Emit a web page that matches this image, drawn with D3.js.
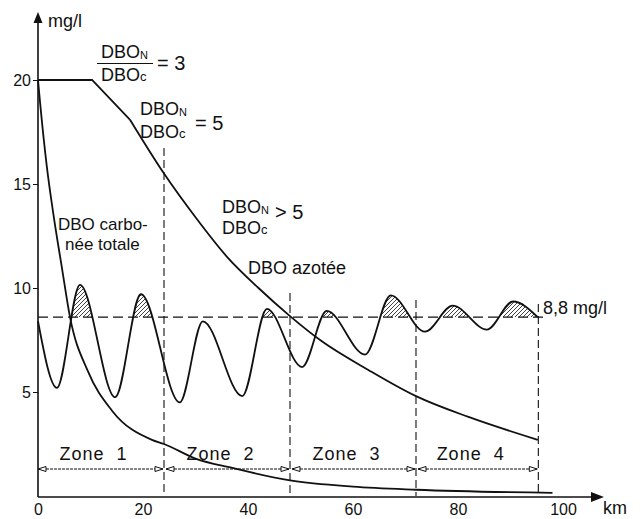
<!DOCTYPE html>
<html>
<head>
<meta charset="utf-8">
<style>
  body { margin: 0; background: #fff; }
  svg { font-family: 'Liberation Sans', Arial, sans-serif; }
  .axis .domain { display: none; }
  .axis text { font-size: 16px; fill: #111; }
  .axis line { stroke: #111; }
  .lbl { font-size: 18px; fill: #111; }
</style>
</head>
<body>
<svg width="640" height="519"></svg>
<script src="https://d3js.org/d3.v7.min.js"></script>
<script>
// values (km, mg/l)
const kmTicks = [0, 20, 40, 60, 80, 100];
const mgTicks = [5, 10, 15, 20];
const zoneEdges = [0, 24, 48, 72, 95.3];
const zoneNames = ["Zone 1", "Zone 2", "Zone 3", "Zone 4"];
const threshold = 8.6; // drawn line, labelled 8,8 mg/l

// oscillating curve (extrema)
const oxyKm = [0, 3.6, 8.0, 14.7, 19.6, 27.0, 31.4, 38.9, 43.6, 50.3, 55.0, 62.3, 67.2, 73.7, 79.0, 85.5, 90.5, 95.2];
const oxyMg = [8.4, 5.2, 10.15, 4.75, 9.7, 4.5, 8.4, 4.8, 9.0, 6.2, 8.9, 6.8, 9.65, 7.9, 9.15, 8.0, 9.35, 8.6];

// DBO carbonée totale
const carbKm = [0, 0.4, 1.7, 2.9, 4.6, 6.1, 9.5, 14.1, 21.7, 24, 30, 37, 48, 60, 72, 98];
const carbMg = [20, 18.9, 15.8, 13.6, 10.9, 8.6, 6.0, 4.1, 2.7, 2.5, 1.8, 1.35, 0.75, 0.45, 0.3, 0.15];

// DBO azotée (first three points joined by straight segments)
const nitroKm = [0, 10.3, 17.5, 24, 30, 36, 42, 48, 54, 63, 72, 82, 95.2];
const nitroMg = [20, 20, 18.1, 15.5, 13.4, 11.5, 10.0, 8.65, 7.45, 6.05, 4.8, 3.8, 2.7];
const nitroBreak = 2;

const svg = d3.select("svg");
const x = d3.scaleLinear().domain([0, 100]).range([38, 563]);
const y = d3.scaleLinear().domain([0, 20]).range([496, 80]);

const pts = (ks, vs) => ks.map((k, i) => [k, vs[i]]);
const oxy = pts(oxyKm, oxyMg);
const carb = pts(carbKm, carbMg);
const nitro = pts(nitroKm, nitroMg);

// hatch pattern
const defs = svg.append("defs");
defs.append("pattern")
  .attr("id", "hatch")
  .attr("patternUnits", "userSpaceOnUse")
  .attr("width", 4).attr("height", 4)
  .append("path")
  .attr("d", "M-1,1 l2,-2 M0,4 l4,-4 M3,5 l2,-2")
  .attr("stroke", "#111").attr("stroke-width", 0.8);
defs.append("clipPath").attr("id", "above")
  .append("rect")
  .attr("x", 0).attr("y", 0)
  .attr("width", 640).attr("height", y(threshold));

// hatched parts above the limit
svg.append("path")
  .datum(oxy)
  .attr("clip-path", "url(#above)")
  .attr("fill", "url(#hatch)")
  .attr("d", d3.area()
    .x(d => x(d[0]))
    .y0(y(threshold))
    .y1(d => y(d[1]))
    .curve(d3.curveMonotoneX));

// axes
svg.append("g")
  .attr("class", "axis")
  .attr("transform", `translate(${x(0)},0)`)
  .call(d3.axisLeft(y).tickValues(mgTicks).tickSize(5).tickPadding(2));

svg.append("g")
  .attr("class", "axis")
  .attr("transform", `translate(0,${y(0) + 1})`)
  .call(d3.axisBottom(x).tickValues(kmTicks).tickSize(0).tickPadding(7));

svg.append("line")
  .attr("x1", x(0)).attr("x2", x(0))
  .attr("y1", y(0) + 1).attr("y2", 20)
  .attr("stroke", "#111").attr("stroke-width", 1.6);
svg.append("path")
  .attr("d", `M${x(0)},12 l-4.5,11 l9,0 Z`)
  .attr("fill", "#111");
svg.append("line")
  .attr("x1", x(0)).attr("x2", 592)
  .attr("y1", y(0) + 1).attr("y2", y(0) + 1)
  .attr("stroke", "#111").attr("stroke-width", 1.6);
svg.append("path")
  .attr("d", `M604,${y(0) + 1} l-13,-5 l0,10 Z`)
  .attr("fill", "#111");

svg.append("text").attr("class", "lbl").attr("x", 48).attr("y", 27).text("mg/l");
svg.append("text").attr("class", "lbl").attr("x", 603).attr("y", 514).text("km");

// limit line
svg.append("line")
  .attr("x1", x(0)).attr("x2", x(zoneEdges[4]) + 6)
  .attr("y1", y(threshold)).attr("y2", y(threshold))
  .attr("stroke", "#111").attr("stroke-width", 1.2)
  .attr("stroke-dasharray", "10,5");

// zone boundaries
const tops = [148, 293, 300, 304];
svg.selectAll(".zb")
  .data(zoneEdges.slice(1))
  .join("line")
  .attr("class", "zb")
  .attr("x1", d => x(d)).attr("x2", d => x(d))
  .attr("y1", (d, i) => tops[i]).attr("y2", y(0))
  .attr("stroke", "#111").attr("stroke-width", 1.1)
  .attr("stroke-dasharray", "8,4");

// zone arrows and labels
const zy = 469;
zoneNames.forEach((name, i) => {
  const a = x(zoneEdges[i]) + (i ? 2 : 0), b = x(zoneEdges[i + 1]) - 1;
  svg.append("line")
    .attr("x1", a).attr("x2", b).attr("y1", zy).attr("y2", zy)
    .attr("stroke", "#111").attr("stroke-width", 1)
    .attr("stroke-dasharray", "3,1");
  svg.append("path")
    .attr("d", `M${a},${zy} l8,-2.5 l0,5 Z M${b},${zy} l-8,-2.5 l0,5 Z`)
    .attr("fill", "#fff").attr("stroke", "#111").attr("stroke-width", 1);
  svg.append("text").attr("class", "lbl")
    .attr("x", (a + b) / 2 - 7).attr("y", 460)
    .attr("text-anchor", "middle")
    .style("letter-spacing", "1px")
    .style("white-space", "pre")
    .text(name.replace(" ", "  "));
});

// curves
svg.append("path").datum(carb)
  .attr("fill", "none").attr("stroke", "#111").attr("stroke-width", 1.8)
  .attr("d", d3.line().x(d => x(d[0])).y(d => y(d[1])).curve(d3.curveMonotoneX));

svg.append("path").datum(nitro.slice(0, nitroBreak + 1))
  .attr("fill", "none").attr("stroke", "#111").attr("stroke-width", 1.8)
  .attr("d", d3.line().x(d => x(d[0])).y(d => y(d[1])));
svg.append("path").datum(nitro.slice(nitroBreak))
  .attr("fill", "none").attr("stroke", "#111").attr("stroke-width", 1.8)
  .attr("d", d3.line().x(d => x(d[0])).y(d => y(d[1])).curve(d3.curveMonotoneX));

svg.append("path").datum(oxy)
  .attr("fill", "none").attr("stroke", "#111").attr("stroke-width", 1.8)
  .attr("d", d3.line().x(d => x(d[0])).y(d => y(d[1])).curve(d3.curveMonotoneX));

// ratio labels
function ratio(x0, yNum, yDen, tail, tx, ty, bar) {
  const t1 = svg.append("text").attr("class", "lbl").attr("x", x0).attr("y", yNum);
  t1.append("tspan").text("DBO");
  t1.append("tspan").attr("font-size", 11).attr("dy", 1).text("N");
  const t2 = svg.append("text").attr("class", "lbl").attr("x", x0).attr("y", yDen);
  t2.append("tspan").text("DBO");
  t2.append("tspan").attr("font-size", 13).text("c");
  if (bar) {
    svg.append("line")
      .attr("x1", x0 - 4).attr("x2", x0 + 52)
      .attr("y1", (yNum + yDen) / 2 - 6).attr("y2", (yNum + yDen) / 2 - 6)
      .attr("stroke", "#111").attr("stroke-width", 1);
  }
  svg.append("text").attr("class", "lbl").attr("x", tx).attr("y", ty)
    .style("font-size", "20px").text(tail);
}
ratio(101, 58, 81, "= 3", 157, 70, true);
ratio(140, 115, 138, "= 5", 195, 130, false);
ratio(222, 213, 234, "> 5", 275, 219, false);

svg.append("text").attr("class", "lbl").attr("x", 248).attr("y", 274).text("DBO azotée");
svg.append("text").attr("class", "lbl").style("font-size", "17px").attr("x", 58).attr("y", 230).text("DBO carbo-");
svg.append("text").attr("class", "lbl").style("font-size", "17px").attr("x", 65).attr("y", 250).text("née totale");
svg.append("text").attr("class", "lbl").attr("x", 543).attr("y", 314).text("8,8 mg/l");
</script>
</body>
</html>
